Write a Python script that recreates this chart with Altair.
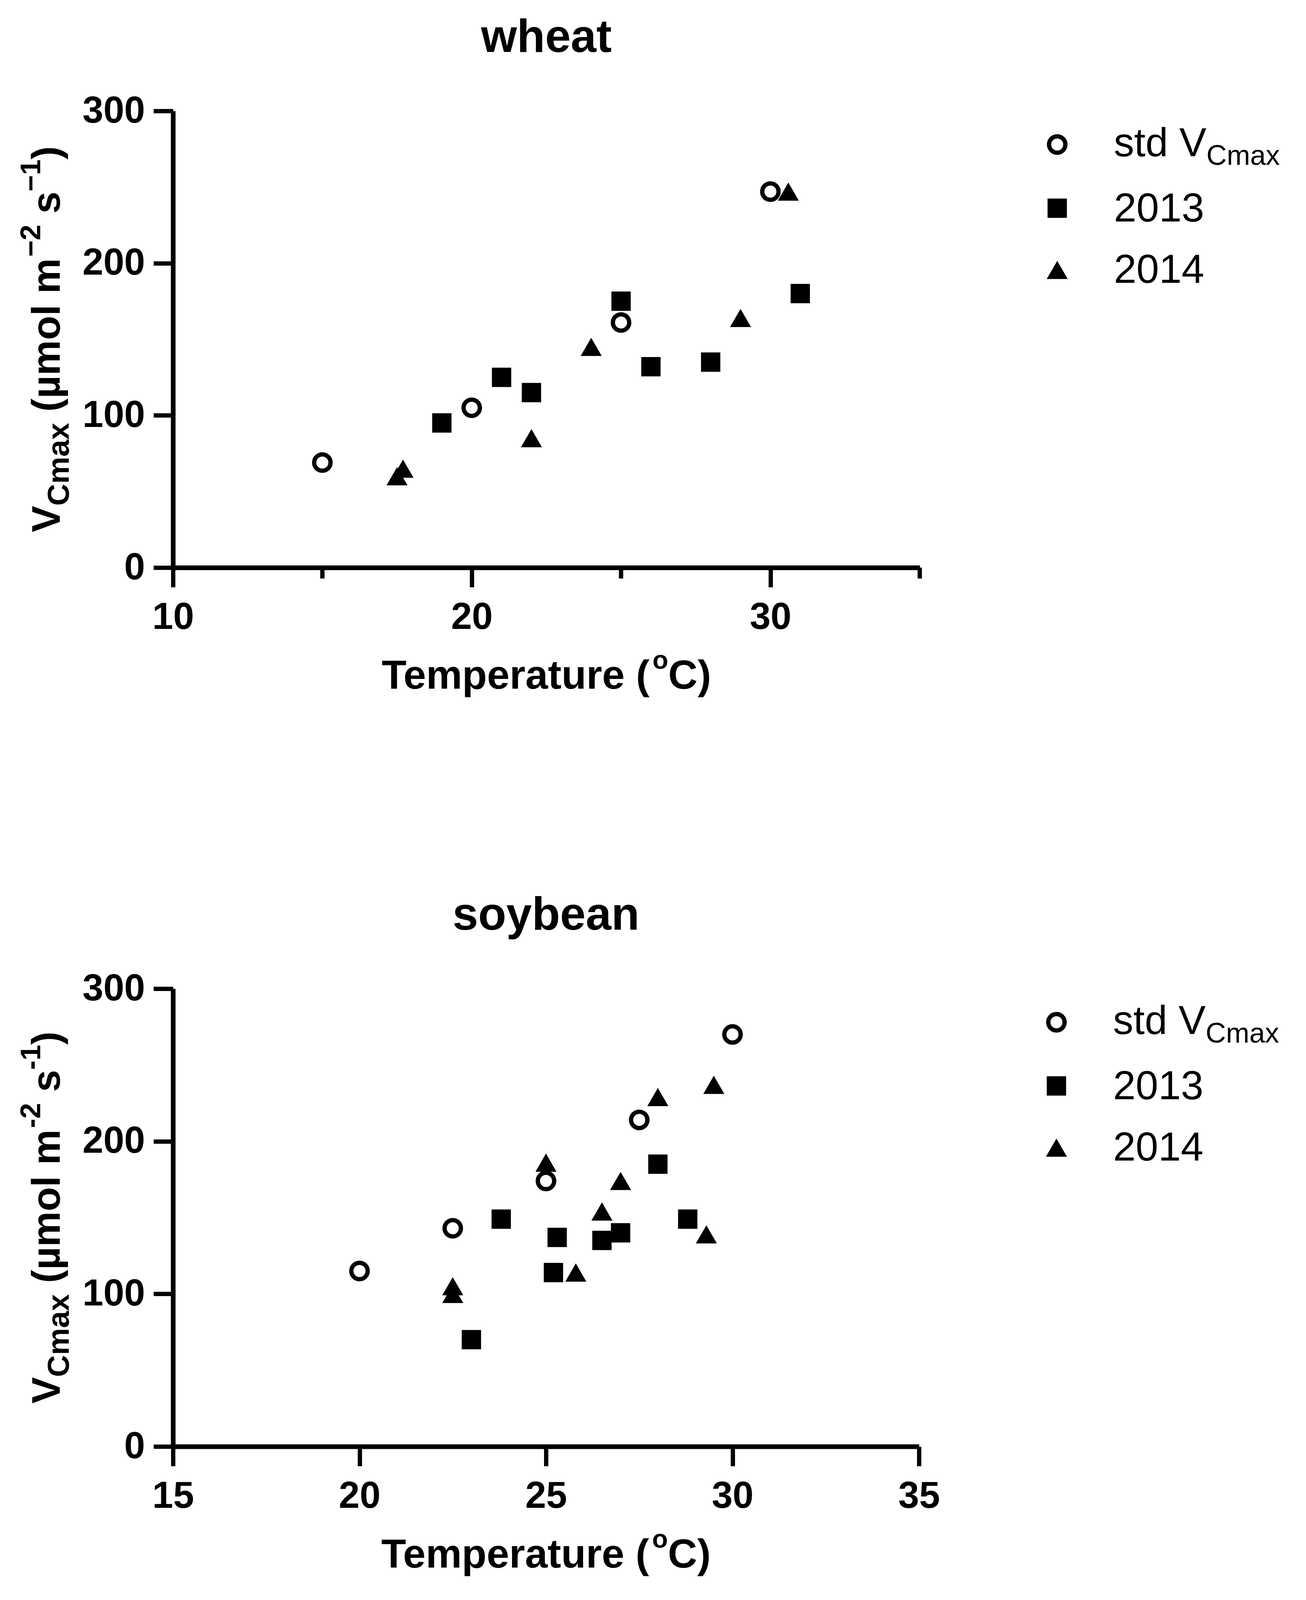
import altair as alt
import pandas as pd

FONT = "Liberation Sans"

# values
wheat_std_temp = [15, 20, 25, 30]
wheat_std_vcmax = [69, 105, 161, 247]
wheat_2013_temp = [19, 21, 22, 25, 26, 28, 31]
wheat_2013_vcmax = [95, 125, 115, 175, 132, 135, 180]
wheat_2014_temp = [17.5, 17.7, 22, 24, 29, 30.6]
wheat_2014_vcmax = [60, 65, 85, 145, 164, 247]

soy_std_temp = [20, 22.5, 25, 27.5, 30]
soy_std_vcmax = [115, 143, 174, 214, 270]
soy_2013_temp = [23, 23.8, 25.2, 25.3, 26.5, 27, 28, 28.8]
soy_2013_vcmax = [70, 149, 114, 137, 135, 140, 185, 149]
soy_2014_temp = [22.5, 22.5, 25, 25.8, 26.5, 27, 28, 29.3, 29.5]
soy_2014_vcmax = [105, 100, 186, 114, 154, 174, 229, 139, 237]

legend_labels = ["std V", "2013", "2014"]
y_ticks = [0, 100, 200, 300]

# Arial / Liberation Sans advance widths (em), to chain the sub/superscript pieces
BOLD_W = {"T": .611, "e": .556, "m": .889, "p": .611, "r": .389, "a": .556,
          "t": .333, "u": .611, " ": .278, "(": .333, ")": .333, "o": .611,
          "C": .722, "V": .667, "\u00b5": .611, "l": .278, "s": .556, "x": .556,
          "\u2212": .584, "-": .333, "1": .556, "2": .556}
REG_W = {"s": .5, "t": .278, "d": .556, " ": .278, "V": .667}

SYM = dict(color="black", opacity=1)
CIRCLE = dict(shape="circle", filled=False, size=1750, strokeWidth=11, **SYM)
SQUARE = dict(shape="square", filled=True, size=2450, **SYM)
TRIANGLE = dict(shape="triangle-up", filled=True, size=2900, **SYM)


def text_width(s, size, table=BOLD_W):
    return sum(table[c] for c in s) * size


def label(text, x, y, size, weight="bold", angle=0, align="left"):
    return alt.Chart(pd.DataFrame({"t": [text]})).mark_text(
        text=text, font=FONT, fontSize=size, fontWeight=weight, angle=angle,
        align=align, baseline="alphabetic", color="black"
    ).encode(x=alt.value(x), y=alt.value(y))


def panel(title, std, y13, y14, x_dom, x_major, x_minor, w, h, dash):
    xs = alt.Scale(domain=x_dom, nice=False, zero=False)
    ys = alt.Scale(domain=[0, 300], nice=False)
    xax = alt.Axis(values=x_major, title=None, labelPadding=30, format="d")
    yax = alt.Axis(values=y_ticks, title=None, labelPadding=22)

    def pts(t, v):
        return alt.Chart(pd.DataFrame({"temp": t, "vcmax": v})).encode(
            x=alt.X("temp:Q", scale=xs, axis=xax),
            y=alt.Y("vcmax:Q", scale=ys, axis=yax))

    layers = [
        pts(*std).mark_point(**CIRCLE),
        pts(*y13).mark_point(**SQUARE),
        pts(*y14).mark_point(**TRIANGLE),
    ]

    if x_minor:
        layers.append(
            alt.Chart(pd.DataFrame({"temp": x_minor})).mark_rule(
                color="black", strokeWidth=11
            ).encode(x=alt.X("temp:Q", scale=xs, axis=xax),
                     y=alt.value(h), y2=alt.value(h + 28)))

    # panel title
    layers.append(label(title, w / 2, -151, 118, align="center"))

    # y title: V_Cmax (µmol m^-2 s^-1), rotated; leading spaces become gaps
    pieces = [("V", 102, 0), ("Cmax", 78, 23), (" (\u00b5mol m", 102, 0),
              (dash + "2", 72, -50), (" s", 102, 0), (dash + "1", 72, -50),
              (")", 102, 0)]
    total = sum(text_width(p, s) for p, s, _ in pieces)
    pos = h / 2 + total / 2
    for p, s, shift in pieces:
        body = p.lstrip(" ")
        pos -= text_width(p[:len(p) - len(body)], s)
        layers.append(label(body, -290 + shift, pos, s, angle=270))
        pos -= text_width(body, s)

    # x title: Temperature (°C) with raised o
    xpieces = [("Temperature (", 104, 0), ("o", 66, -51), ("C)", 104, 0)]
    total = sum(text_width(p, s) for p, s, _ in xpieces)
    pos = w / 2 - total / 2
    for p, s, shift in xpieces:
        layers.append(label(p, pos, h + 310 + shift, s))
        pos += text_width(p, s)

    # legend
    rows = [86, 249, 407]
    mx, tx = w + 352, w + 497
    one = pd.DataFrame({"k": [0]})
    for row, sym in zip(rows, [CIRCLE, SQUARE, TRIANGLE]):
        layers.append(alt.Chart(one).mark_point(**sym).encode(
            x=alt.value(mx), y=alt.value(row)))
    layers.append(label(legend_labels[0], tx, rows[0] + 30, 104, weight="normal"))
    layers.append(label("Cmax", tx + text_width("std V", 104, REG_W), rows[0] + 52,
                        72, weight="normal"))
    layers.append(label(legend_labels[1], tx, rows[1] + 34, 104, weight="normal"))
    layers.append(label(legend_labels[2], tx, rows[2] + 33, 104, weight="normal"))

    return alt.layer(*layers).properties(width=w, height=h)


top = panel("wheat", (wheat_std_temp, wheat_std_vcmax),
            (wheat_2013_temp, wheat_2013_vcmax), (wheat_2014_temp, wheat_2014_vcmax),
            [10, 35], [10, 20, 30], [15, 25, 35], 1912, 1169, "\u2212")
bottom = panel("soybean", (soy_std_temp, soy_std_vcmax),
               (soy_2013_temp, soy_2013_vcmax), (soy_2014_temp, soy_2014_vcmax),
               [15, 35], [15, 20, 25, 30, 35], [], 1910, 1172, "-")

chart = alt.vconcat(top, bottom, spacing=502).configure(
    padding={"left": 36, "top": 31, "right": 20, "bottom": 10},
    background="white",
).configure_view(stroke=None).configure_axis(
    domainColor="black", domainWidth=12, tickColor="black", tickWidth=11,
    tickSize=50, grid=False, labelFont=FONT, labelFontWeight="bold",
    labelFontSize=96, labelColor="black", labelOverlap=False, labelBound=False,
    labelFlush=False,
)

chart.save("out.html", embed_options={"renderer": "svg", "actions": False})
